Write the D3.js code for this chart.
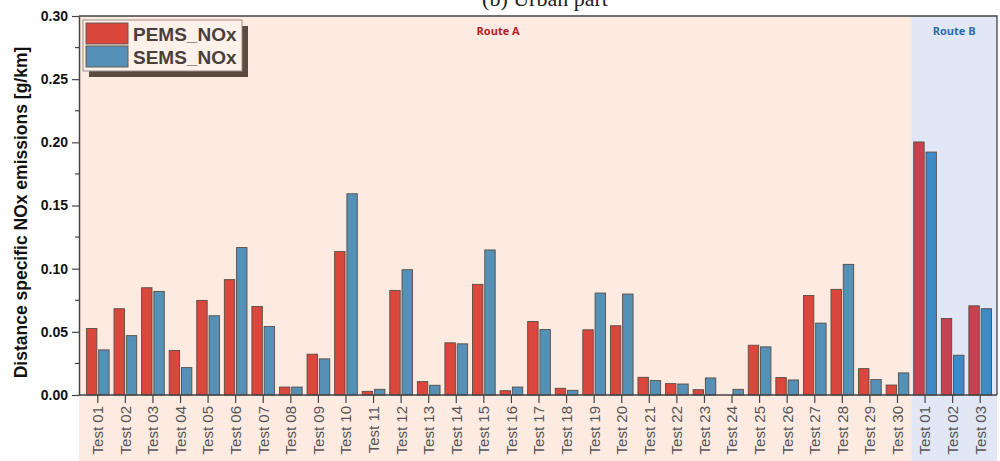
<!DOCTYPE html>
<html>
<head>
<meta charset="utf-8">
<script src="https://cdn.jsdelivr.net/npm/d3@7"></script>
<style>
  body { margin: 0; background: #fff; }
  svg { display: block; }
</style>
</head>
<body>
<script>
// base data
const tests = ['Test 01','Test 02','Test 03','Test 04','Test 05','Test 06','Test 07','Test 08','Test 09','Test 10',
  'Test 11','Test 12','Test 13','Test 14','Test 15','Test 16','Test 17','Test 18','Test 19','Test 20',
  'Test 21','Test 22','Test 23','Test 24','Test 25','Test 26','Test 27','Test 28','Test 29','Test 30',
  'Test 01','Test 02','Test 03'];
const routes = ['A','A','A','A','A','A','A','A','A','A','A','A','A','A','A','A','A','A','A','A',
  'A','A','A','A','A','A','A','A','A','A','B','B','B'];
const pems = [0.0526, 0.0683, 0.0849, 0.0352, 0.0749, 0.0913, 0.0701, 0.0063, 0.0323, 0.1135,
  0.0029, 0.0828, 0.0106, 0.0413, 0.0876, 0.0034, 0.0582, 0.0053, 0.0516, 0.0548,
  0.0140, 0.0090, 0.0042, 0.0000, 0.0394, 0.0138, 0.0788, 0.0836, 0.0209, 0.0079,
  0.2003, 0.0606, 0.0706];
const sems = [0.0357, 0.0470, 0.0820, 0.0217, 0.0627, 0.1167, 0.0542, 0.0063, 0.0286, 0.1593,
  0.0045, 0.0992, 0.0077, 0.0405, 0.1148, 0.0063, 0.0518, 0.0037, 0.0807, 0.0799,
  0.0114, 0.0087, 0.0135, 0.0045, 0.0381, 0.0119, 0.0569, 0.1034, 0.0122, 0.0175,
  0.1923, 0.0315, 0.0683];
const yTicks = [0, 0.05, 0.10, 0.15, 0.20, 0.25, 0.30];
const seriesNames = ['PEMS_NOx', 'SEMS_NOx'];

// constants
const width = 1000, height = 461;
const frame = { left: 79, right: 997, top: 16, bottom: 395 };
const colors = {
  A: ['#d9473d', '#5590b6'],
  B: ['#c8414f', '#3d8ac8']
};
const shade = { A: '#fdebe1', B: '#e1e7f5' };
const ink = '#4a3f3a';

const rows = tests.map((t, i) => ({ key: i, label: t, route: routes[i], values: [pems[i], sems[i]] }));

const svg = d3.select('body').append('svg')
  .attr('width', width).attr('height', height);

// scales
const xScale = d3.scaleBand()
  .domain(rows.map(d => d.key))
  .range([frame.left + 5, frame.right - 3]);
const inner = d3.scaleBand()
  .domain([0, 1])
  .range([0, xScale.bandwidth()])
  .paddingInner(0.15)
  .paddingOuter(0.2);
const yScale = d3.scaleLinear()
  .domain([0, 0.30])
  .range([frame.bottom, frame.top]);

// route shading (extends behind x labels)
const routeB0 = rows.findIndex(d => d.route === 'B');
const splitX = xScale(routeB0);
svg.append('rect').attr('x', frame.left).attr('y', frame.top)
  .attr('width', splitX - frame.left).attr('height', height - frame.top)
  .attr('fill', shade.A);
svg.append('rect').attr('x', splitX).attr('y', frame.top)
  .attr('width', frame.right - splitX).attr('height', height - frame.top)
  .attr('fill', shade.B);

// title (cut off at top)
svg.append('text').attr('x', 545).attr('y', 6)
  .attr('text-anchor', 'middle')
  .attr('font-family', '"Liberation Serif", "DejaVu Serif", serif')
  .attr('font-size', 22).attr('fill', '#222')
  .text('(b) Urban part');

// bars
const groups = svg.append('g').selectAll('g').data(rows).enter().append('g')
  .attr('transform', d => `translate(${xScale(d.key)},0)`);
groups.selectAll('rect')
  .data(d => d.values.map((v, j) => ({ v, j, route: d.route })))
  .enter().append('rect')
  .attr('x', d => inner(d.j))
  .attr('width', inner.bandwidth())
  .attr('y', d => yScale(d.v))
  .attr('height', d => yScale(0) - yScale(d.v))
  .attr('fill', d => colors[d.route][d.j])
  .attr('stroke', d => d.v > 0 ? '#5a4c45' : 'none')
  .attr('stroke-width', 0.9);

// frame top/right
svg.append('path')
  .attr('d', `M${frame.left},${frame.top}H${frame.right}V${frame.bottom}`)
  .attr('fill', 'none').attr('stroke', '#444').attr('stroke-width', 1.3);

// x axis
const xAxis = svg.append('g')
  .attr('transform', `translate(0,${frame.bottom})`)
  .call(d3.axisBottom(xScale).tickSize(8).tickSizeOuter(0).tickFormat(k => tests[k]));
xAxis.select('.domain').attr('stroke', '#444').attr('stroke-width', 1.5)
  .attr('d', `M${frame.left},0H${frame.right}`);
xAxis.selectAll('.tick line').attr('stroke', '#444').attr('stroke-width', 1.2);
xAxis.selectAll('.tick text')
  .attr('transform', 'rotate(-90)')
  .attr('text-anchor', 'end')
  .attr('x', -11).attr('y', 0).attr('dy', '0.36em')
  .attr('font-family', 'Arial, "Liberation Sans", sans-serif')
  .attr('font-size', 15).attr('fill', '#555');

// y axis
const yAxis = svg.append('g')
  .attr('transform', `translate(${frame.left},0)`)
  .call(d3.axisLeft(yScale).tickValues(yTicks).tickSize(7).tickSizeOuter(0).tickFormat(d3.format('.2f')));
yAxis.select('.domain').attr('stroke', '#444').attr('stroke-width', 1.5);
yAxis.selectAll('.tick line').attr('stroke', '#444').attr('stroke-width', 1.2);
yAxis.selectAll('.tick text')
  .attr('x', -11)
  .attr('font-family', 'Arial, "Liberation Sans", sans-serif')
  .attr('font-size', 14).attr('font-weight', 'bold').attr('fill', '#111');
// minor ticks
svg.append('g').selectAll('line')
  .data(d3.pairs(yTicks).map(p => (p[0] + p[1]) / 2)).enter().append('line')
  .attr('x1', frame.left - 4).attr('x2', frame.left)
  .attr('y1', d => yScale(d)).attr('y2', d => yScale(d))
  .attr('stroke', '#444').attr('stroke-width', 1.2);

// y label
svg.append('text')
  .attr('transform', `translate(27,${(frame.top + frame.bottom) / 2 + 7}) rotate(-90)`)
  .attr('text-anchor', 'middle')
  .attr('font-family', 'Arial, "Liberation Sans", sans-serif')
  .attr('font-size', 17.5).attr('font-weight', 'bold').attr('fill', '#111')
  .text('Distance specific NOx emissions [g/km]');

// route labels
svg.append('text').attr('x', (frame.left + splitX) / 2 + 3).attr('y', 35)
  .attr('text-anchor', 'middle')
  .attr('font-family', '"Open Sans", "Noto Sans", sans-serif')
  .attr('font-size', 11).attr('font-weight', 'bold').attr('fill', '#b3202a')
  .text('Route A');
svg.append('text').attr('x', (splitX + frame.right) / 2).attr('y', 35)
  .attr('text-anchor', 'middle')
  .attr('font-family', '"Open Sans", "Noto Sans", sans-serif')
  .attr('font-size', 11).attr('font-weight', 'bold').attr('fill', '#2a6db0')
  .text('Route B');

// legend
const lg = svg.append('g').attr('transform', 'translate(83,20)');
lg.append('rect').attr('x', 6).attr('y', 6).attr('width', 159).attr('height', 51)
  .attr('fill', '#5a4a42');
lg.append('rect').attr('x', 0).attr('y', 0).attr('width', 159).attr('height', 51)
  .attr('fill', '#fdf1ea').attr('stroke', '#9a8d86').attr('stroke-width', 1);
seriesNames.forEach((name, j) => {
  lg.append('rect').attr('x', 3).attr('y', 3 + j * 23).attr('width', 42).attr('height', 21)
    .attr('fill', colors.A[j]).attr('stroke', '#6a5a52').attr('stroke-width', 1);
  lg.append('text').attr('x', 50).attr('y', 14 + j * 23).attr('dy', '0.36em')
    .attr('font-family', 'Arial, "Liberation Sans", sans-serif')
    .attr('font-size', 19).attr('font-weight', 'bold').attr('fill', ink)
    .text(name);
});
</script>
</body>
</html>
